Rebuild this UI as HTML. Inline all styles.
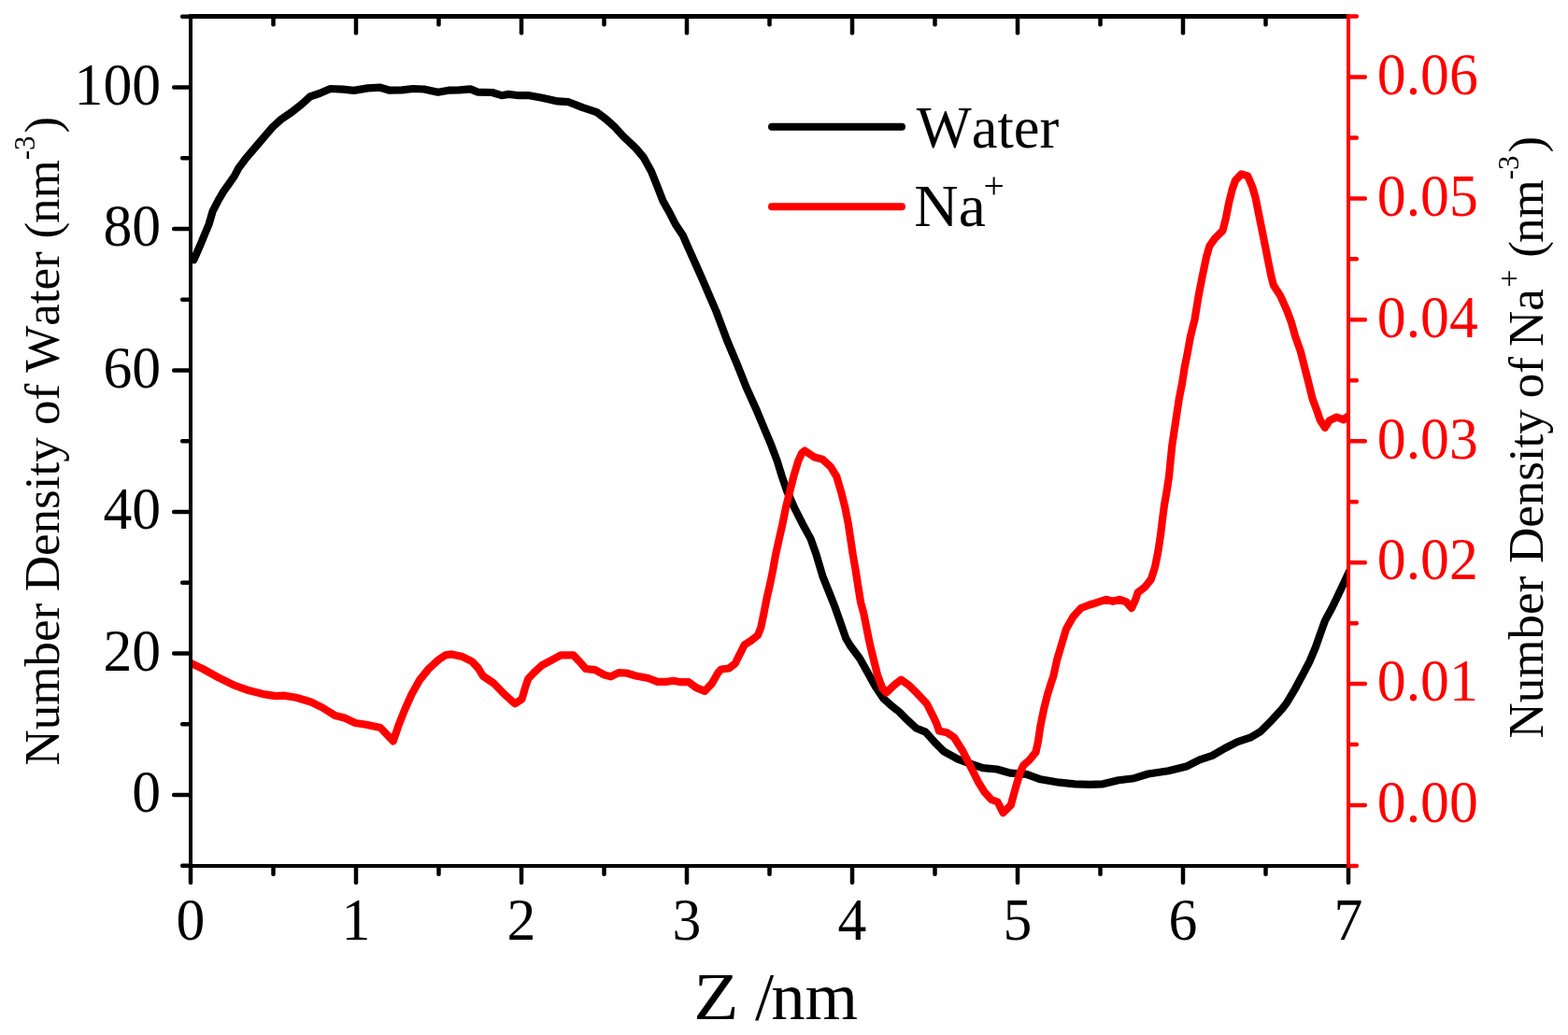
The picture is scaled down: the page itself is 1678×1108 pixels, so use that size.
<!DOCTYPE html>
<html lang="en"><head><meta charset="utf-8"><title>Number density of water and Na+ along Z</title>
<style>html,body{margin:0;padding:0;background:#fff;}body{width:1678px;height:1108px;overflow:hidden;}svg{display:block;}text{font-family:"Liberation Serif","DejaVu Serif",serif;font-kerning:none;white-space:pre;}</style>
</head><body>
<svg width="1678" height="1108" viewBox="0 0 1678 1108">
<rect width="1678" height="1108" fill="#fff"/>
<defs><clipPath id="c"><rect x="204.0" y="17.5" width="1239.0" height="909.5"/></clipPath></defs>
<g clip-path="url(#c)" fill="none" stroke-linejoin="round" stroke-linecap="round">
<path d="M207.4,278.2 L210.3,271.5 L214.6,261.7 L219.1,250.8 L223.6,240.0 L227.6,226.2 L234.1,213.6 L239.1,205.2 L245.0,196.8 L250.9,188.4 L255.3,180.0 L262.6,170.2 L276.8,153.5 L291.0,136.8 L300.0,128.4 L312.2,120.0 L322.7,111.7 L331.9,103.4 L341.9,100.0 L353.6,95.0 L366.9,95.7 L378.6,96.9 L393.6,94.4 L407.0,93.7 L417.0,96.7 L430.3,96.4 L442.0,95.0 L453.7,95.5 L468.7,98.7 L480.0,96.7 L491.7,96.4 L503.4,95.4 L511.7,98.7 L526.7,99.0 L536.8,102.2 L544.3,100.9 L555.1,102.2 L565.1,102.0 L580.2,104.7 L596.9,108.4 L608.5,109.2 L623.6,115.1 L638.6,120.1 L648.6,127.6 L657.0,135.1 L667.0,146.0 L680.3,158.5 L688.7,168.5 L697.0,183.5 L703.7,200.2 L709.5,215.2 L717.0,228.6 L722.8,240.0 L731.1,252.6 L736.5,265.2 L744.1,282.0 L751.6,298.8 L758.8,315.6 L766.3,333.0 L778.4,365.2 L788.9,390.2 L798.9,415.2 L810.2,440.3 L818.4,460.0 L825.4,476.7 L831.7,493.4 L836.8,510.0 L842.6,526.8 L850.1,543.5 L858.5,560.2 L867.6,576.9 L873.5,593.6 L880.3,616.7 L887.0,633.4 L893.6,650.1 L899.5,666.8 L905.3,683.5 L910.3,691.8 L920.3,705.2 L928.7,720.2 L937.0,735.2 L945.4,747.7 L953.7,755.3 L962.1,761.9 L970.4,770.3 L980.4,779.5 L990.5,783.6 L1000.0,794.3 L1010.0,804.3 L1025.0,812.6 L1038.4,817.6 L1051.8,822.2 L1066.8,823.5 L1081.8,827.7 L1098.5,828.8 L1113.5,834.3 L1133.6,837.7 L1150.3,839.3 L1166.9,839.8 L1180.3,839.3 L1197.0,835.2 L1213.7,833.2 L1228.7,828.5 L1250.4,825.2 L1270.5,820.2 L1283.8,813.4 L1297.3,808.9 L1310.9,801.0 L1324.4,794.2 L1337.9,789.7 L1349.2,782.9 L1360.5,771.6 L1371.8,759.2 L1377.0,752.5 L1386.3,736.8 L1395.3,720.0 L1401.6,707.8 L1407.7,693.3 L1412.8,678.9 L1418.0,664.4 L1425.8,650.0 L1433.0,635.0 L1441.0,618.1 L1446.0,607.5" stroke="#000" stroke-width="8.2"/>
<path d="M200.0,707.8 L206.3,710.9 L216.7,715.9 L233.4,725.1 L250.1,733.4 L266.8,739.3 L283.5,743.4 L295.2,745.1 L303.5,744.6 L316.9,746.8 L333.6,751.8 L345.2,757.6 L358.6,766.0 L368.6,768.5 L380.3,774.0 L392.0,775.7 L407.0,779.0 L420.8,793.3 L427.0,775.2 L433.7,758.5 L440.4,743.5 L448.8,728.4 L458.8,715.9 L468.8,706.7 L476.7,701.4 L483.4,700.4 L495.0,703.1 L505.1,708.1 L511.7,715.1 L516.7,723.5 L528.4,731.5 L540.1,743.5 L551.0,753.2 L558.5,748.5 L561.8,736.8 L565.2,726.8 L571.8,719.8 L580.2,712.1 L591.9,705.9 L600.2,701.4 L613.6,701.4 L620.3,708.4 L626.9,716.0 L636.9,717.1 L647.0,722.6 L653.6,724.3 L662.0,720.1 L670.3,720.5 L680.4,723.5 L693.7,726.0 L703.7,729.8 L713.7,729.8 L720.4,728.8 L728.8,730.2 L737.1,730.2 L745.0,736.1 L754.2,739.9 L761.7,731.9 L768.4,720.2 L771.8,716.5 L780.1,715.5 L786.8,710.2 L791.8,700.2 L796.8,690.2 L803.5,686.0 L811.0,680.1 L814.3,671.8 L817.7,655.1 L821.0,638.4 L823.7,627.0 L827.1,610.3 L830.1,593.6 L833.8,576.9 L837.6,560.2 L840.9,543.5 L845.1,526.8 L849.3,510.0 L854.3,493.4 L858.1,485.0 L861.3,482.5 L871.0,489.2 L880.2,491.7 L888.5,499.2 L895.2,510.0 L900.2,526.8 L904.4,543.5 L907.7,560.2 L910.2,576.9 L912.7,593.6 L915.6,610.3 L918.2,627.0 L921.1,645.0 L924.3,656.7 L927.6,673.4 L931.0,690.1 L935.1,706.8 L939.3,723.5 L944.3,736.8 L948.5,741.5 L956.8,733.5 L964.3,727.6 L973.5,734.3 L981.9,742.7 L991.9,753.5 L998.6,766.9 L1002.0,774.0 L1005.0,782.6 L1013.4,784.3 L1020.9,789.3 L1030.0,803.5 L1038.4,820.1 L1046.7,836.8 L1053.4,847.7 L1060.9,856.0 L1067.6,858.5 L1073.5,870.2 L1081.8,861.9 L1086.8,843.5 L1091.8,826.8 L1095.2,819.3 L1101.8,813.5 L1108.5,805.1 L1111.0,793.4 L1113.5,776.7 L1116.9,760.1 L1121.0,743.4 L1125.2,730.0 L1127.3,724.0 L1131.0,707.0 L1135.9,690.3 L1140.9,673.6 L1148.4,660.2 L1156.8,651.0 L1165.1,647.7 L1173.5,645.2 L1183.5,641.8 L1191.0,643.8 L1198.5,641.8 L1205.2,644.3 L1211.0,651.0 L1215.2,641.8 L1217.7,634.3 L1225.2,628.5 L1231.9,620.1 L1236.1,606.8 L1239.4,590.1 L1241.9,573.4 L1243.9,556.7 L1246.1,540.0 L1248.4,527.0 L1251.0,510.3 L1252.6,493.6 L1254.3,476.9 L1256.8,460.2 L1259.3,443.5 L1261.8,426.8 L1265.1,410.1 L1267.7,393.4 L1271.0,376.7 L1274.0,360.0 L1278.5,342.0 L1282.6,316.9 L1286.8,295.2 L1291.0,275.2 L1294.3,263.5 L1300.2,255.1 L1308.5,246.8 L1311.9,233.4 L1315.2,216.7 L1318.5,203.4 L1321.9,193.4 L1328.5,186.4 L1335.2,188.4 L1340.2,200.0 L1343.6,211.7 L1346.9,228.4 L1350.3,245.1 L1353.6,261.8 L1356.9,278.5 L1360.3,295.2 L1362.8,305.2 L1370.3,316.9 L1377.0,331.9 L1382.0,345.3 L1386.1,360.0 L1392.0,376.7 L1396.2,393.4 L1400.4,410.1 L1404.5,426.8 L1409.5,440.1 L1412.9,450.1 L1417.9,457.7 L1422.9,450.1 L1430.4,446.5 L1437.9,449.3 L1442.1,446.0 L1446.0,443.0" stroke="#f00" stroke-width="8.2"/>
</g>
<g fill="#000">
<rect x="201.75" y="927.00" width="4.50" height="20.00" rx="2.0"/>
<rect x="290.25" y="927.00" width="4.50" height="11.00" rx="2.0"/>
<rect x="290.25" y="17.50" width="4.50" height="11.00" rx="2.0"/>
<rect x="378.75" y="927.00" width="4.50" height="20.00" rx="2.0"/>
<rect x="378.75" y="17.50" width="4.50" height="20.00" rx="2.0"/>
<rect x="467.25" y="927.00" width="4.50" height="11.00" rx="2.0"/>
<rect x="467.25" y="17.50" width="4.50" height="11.00" rx="2.0"/>
<rect x="555.75" y="927.00" width="4.50" height="20.00" rx="2.0"/>
<rect x="555.75" y="17.50" width="4.50" height="20.00" rx="2.0"/>
<rect x="644.25" y="927.00" width="4.50" height="11.00" rx="2.0"/>
<rect x="644.25" y="17.50" width="4.50" height="11.00" rx="2.0"/>
<rect x="732.75" y="927.00" width="4.50" height="20.00" rx="2.0"/>
<rect x="732.75" y="17.50" width="4.50" height="20.00" rx="2.0"/>
<rect x="821.25" y="927.00" width="4.50" height="11.00" rx="2.0"/>
<rect x="821.25" y="17.50" width="4.50" height="11.00" rx="2.0"/>
<rect x="909.75" y="927.00" width="4.50" height="20.00" rx="2.0"/>
<rect x="909.75" y="17.50" width="4.50" height="20.00" rx="2.0"/>
<rect x="998.25" y="927.00" width="4.50" height="11.00" rx="2.0"/>
<rect x="998.25" y="17.50" width="4.50" height="11.00" rx="2.0"/>
<rect x="1086.75" y="927.00" width="4.50" height="20.00" rx="2.0"/>
<rect x="1086.75" y="17.50" width="4.50" height="20.00" rx="2.0"/>
<rect x="1175.25" y="927.00" width="4.50" height="11.00" rx="2.0"/>
<rect x="1175.25" y="17.50" width="4.50" height="11.00" rx="2.0"/>
<rect x="1263.75" y="927.00" width="4.50" height="20.00" rx="2.0"/>
<rect x="1263.75" y="17.50" width="4.50" height="20.00" rx="2.0"/>
<rect x="1352.25" y="927.00" width="4.50" height="11.00" rx="2.0"/>
<rect x="1352.25" y="17.50" width="4.50" height="11.00" rx="2.0"/>
<rect x="1440.75" y="927.00" width="4.50" height="20.00" rx="2.0"/>
<rect x="193.00" y="924.50" width="11.00" height="4.50" rx="2.0"/>
<rect x="184.00" y="848.75" width="20.00" height="4.50" rx="2.0"/>
<rect x="193.00" y="773.00" width="11.00" height="4.50" rx="2.0"/>
<rect x="184.00" y="697.25" width="20.00" height="4.50" rx="2.0"/>
<rect x="193.00" y="621.50" width="11.00" height="4.50" rx="2.0"/>
<rect x="184.00" y="545.75" width="20.00" height="4.50" rx="2.0"/>
<rect x="193.00" y="470.00" width="11.00" height="4.50" rx="2.0"/>
<rect x="184.00" y="394.25" width="20.00" height="4.50" rx="2.0"/>
<rect x="193.00" y="318.50" width="11.00" height="4.50" rx="2.0"/>
<rect x="184.00" y="242.75" width="20.00" height="4.50" rx="2.0"/>
<rect x="193.00" y="167.00" width="11.00" height="4.50" rx="2.0"/>
<rect x="184.00" y="91.25" width="20.00" height="4.50" rx="2.0"/>
<rect x="193.00" y="15.50" width="11.00" height="4.50" rx="2.0"/>
<rect x="202.00" y="15.00" width="1243.00" height="5.00"/>
<rect x="202.00" y="925.00" width="1243.00" height="4.00"/>
<rect x="202.00" y="15.00" width="4.00" height="914.00"/>
</g>
<g fill="#f00">
<rect x="1443.00" y="924.77" width="11.00" height="4.50" rx="2.0"/>
<rect x="1443.00" y="859.80" width="20.00" height="4.50" rx="2.0"/>
<rect x="1443.00" y="794.83" width="11.00" height="4.50" rx="2.0"/>
<rect x="1443.00" y="729.87" width="20.00" height="4.50" rx="2.0"/>
<rect x="1443.00" y="664.90" width="11.00" height="4.50" rx="2.0"/>
<rect x="1443.00" y="599.93" width="20.00" height="4.50" rx="2.0"/>
<rect x="1443.00" y="534.97" width="11.00" height="4.50" rx="2.0"/>
<rect x="1443.00" y="470.00" width="20.00" height="4.50" rx="2.0"/>
<rect x="1443.00" y="405.03" width="11.00" height="4.50" rx="2.0"/>
<rect x="1443.00" y="340.07" width="20.00" height="4.50" rx="2.0"/>
<rect x="1443.00" y="275.10" width="11.00" height="4.50" rx="2.0"/>
<rect x="1443.00" y="210.13" width="20.00" height="4.50" rx="2.0"/>
<rect x="1443.00" y="145.17" width="11.00" height="4.50" rx="2.0"/>
<rect x="1443.00" y="80.20" width="20.00" height="4.50" rx="2.0"/>
<rect x="1443.00" y="15.23" width="11.00" height="4.50" rx="2.0"/>
<rect x="1441.00" y="15.00" width="4.00" height="914.00"/>
</g>
<g font-size="61.7" fill="#000" text-anchor="middle">
<text transform="translate(204.0,1005.5) scale(1,1.015)">0</text>
<text transform="translate(381.0,1005.5) scale(1,1.015)">1</text>
<text transform="translate(558.0,1005.5) scale(1,1.015)">2</text>
<text transform="translate(735.0,1005.5) scale(1,1.015)">3</text>
<text transform="translate(912.0,1005.5) scale(1,1.015)">4</text>
<text transform="translate(1089.0,1005.5) scale(1,1.015)">5</text>
<text transform="translate(1266.0,1005.5) scale(1,1.015)">6</text>
<text transform="translate(1443.0,1005.5) scale(1,1.015)">7</text>
</g>
<g font-size="61.7" fill="#000" text-anchor="end">
<text transform="translate(172.1,869.0) scale(1,1.015)">0</text>
<text transform="translate(172.1,717.5) scale(1,1.015)">20</text>
<text transform="translate(172.1,566.0) scale(1,1.015)">40</text>
<text transform="translate(172.1,414.5) scale(1,1.015)">60</text>
<text transform="translate(172.1,263.0) scale(1,1.015)">80</text>
<text transform="translate(172.1,111.5) scale(1,1.015)">100</text>
</g>
<g font-size="61.7" fill="#f00" text-anchor="start">
<text transform="translate(1473.8,880.3) scale(1,1.015)">0.00</text>
<text transform="translate(1473.8,750.4) scale(1,1.015)">0.01</text>
<text transform="translate(1473.8,620.4) scale(1,1.015)">0.02</text>
<text transform="translate(1473.8,490.5) scale(1,1.015)">0.03</text>
<text transform="translate(1473.8,360.6) scale(1,1.015)">0.04</text>
<text transform="translate(1473.8,230.6) scale(1,1.015)">0.05</text>
<text transform="translate(1473.8,100.7) scale(1,1.015)">0.06</text>
</g>
<text y="1090.8" font-size="72.5" fill="#000"><tspan x="742.20" textLength="68.00" lengthAdjust="spacingAndGlyphs">Z </tspan><tspan x="808.00">/</tspan><tspan x="825.25" textLength="92.90" lengthAdjust="spacingAndGlyphs">nm</tspan></text>
<text transform="translate(62.8,819.4) rotate(-90)" font-size="53.0" fill="#000"><tspan x="0.0" y="0.0">Number </tspan><tspan x="186.2" y="0.0">Density </tspan><tspan x="364.5" y="0.0">of </tspan><tspan x="420.7" y="0.0">Water </tspan><tspan x="564.0" y="0.0">(</tspan><tspan x="580.3" y="0.0">nm</tspan><tspan x="648.1" y="-25.6" font-size="31.0">-3</tspan><tspan x="676.8" y="0.0">)</tspan></text>
<text transform="translate(1650.5,790.4) rotate(-90)" font-size="53.0" fill="#000"><tspan x="0.0" y="0.0">Number </tspan><tspan x="187.3" y="0.0">Density </tspan><tspan x="364.2" y="0.0">of </tspan><tspan x="419.4" y="0.0">Na</tspan><tspan x="482.6" y="-24.7" font-size="34.0">+</tspan><tspan x="501.3" y="0.0"> (</tspan><tspan x="530.3" y="0.0">nm</tspan><tspan x="598.1" y="-25.3" font-size="31.0">-3</tspan><tspan x="626.9" y="0.0">)</tspan></text>
<g stroke-width="8.0" stroke-linecap="round" fill="none">
<line x1="826.0" y1="135.8" x2="965.0" y2="135.8" stroke="#000"/>
<line x1="826.0" y1="221.2" x2="965.0" y2="221.2" stroke="#f00"/>
</g>
<text x="980.8" y="157.5" font-size="63.0" fill="#000" textLength="152.5" lengthAdjust="spacingAndGlyphs">Water</text>
<text y="242.4" font-size="63.0" fill="#000"><tspan x="978.3" textLength="76.5" lengthAdjust="spacingAndGlyphs">Na</tspan><tspan x="1052.5" y="212.2" font-size="39.5">+</tspan></text>
</svg>
</body></html>
